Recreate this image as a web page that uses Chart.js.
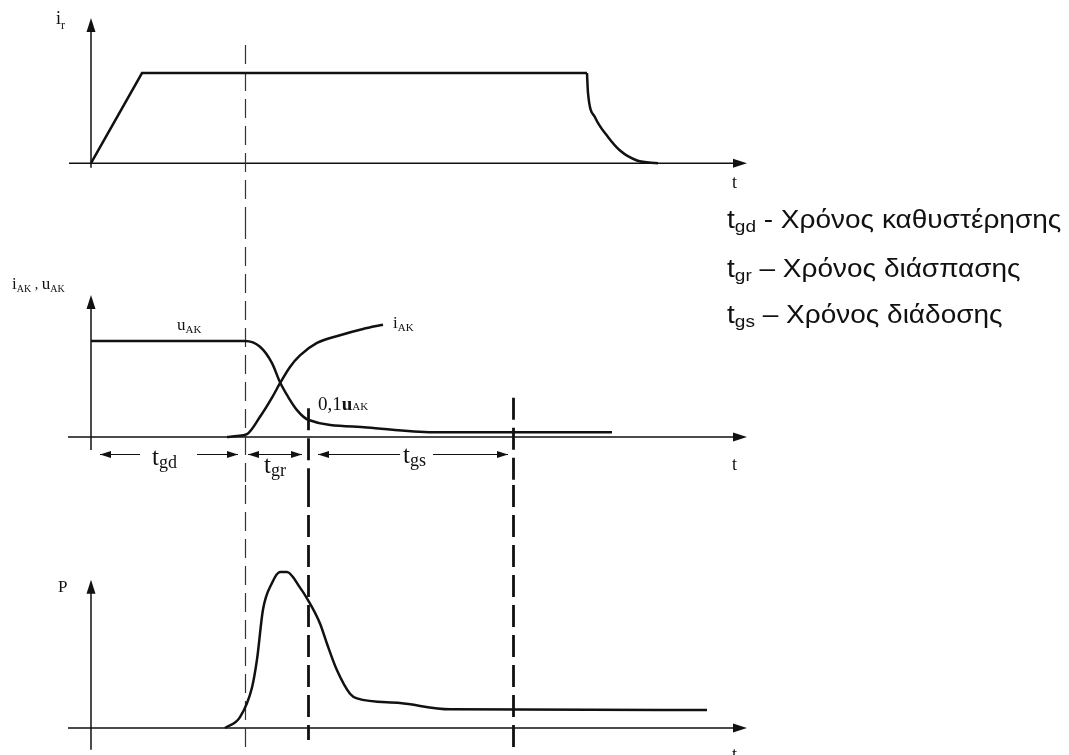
<!DOCTYPE html>
<html>
<head>
<meta charset="utf-8">
<title>Thyristor turn-on</title>
<script src="https://cdn.jsdelivr.net/npm/chart.js@4.4.1/dist/chart.umd.min.js"></script>
<style>
  body { margin: 0; background: #fff; width: 1069px; height: 755px; overflow: hidden; position: relative; }
  canvas { position: absolute; left: 0; }
  .legend {
    position: absolute; left: 727px; line-height: 30px;
    font-family: "Liberation Sans", Arial, sans-serif; font-size: 25px; color: #111; white-space: nowrap;
    transform: scaleX(1.12); transform-origin: 0 0;
  }
  .legend sub { font-size: 17px; vertical-align: -4px; line-height: 0; }
</style>
</head>
<body>
<canvas id="gateChart" width="1069" height="220" style="top:0"></canvas>
<canvas id="anodeChart" width="1069" height="265" style="top:220px"></canvas>
<canvas id="powerChart" width="1069" height="270" style="top:485px"></canvas>

<div class="legend" style="top:204px">t<sub>gd</sub> - Χρόνος καθυστέρησης</div>
<div class="legend" style="top:253px">t<sub>gr</sub> – Χρόνος διάσπασης</div>
<div class="legend" style="top:299px">t<sub>gs</sub> – Χρόνος διάδοσης</div>

<script>
// time runs in the same units on all three panels, t = 0 on the vertical axes
const gateRiseT = [0, 5.1, 49.6];
const gateRiseI = [0, 1, 1];
const gateFallT = [49.6, 49.7, 50.4, 51.7, 52.9, 54.6, 56.7];
const gateFallI = [1, 0.78, 0.51, 0.29, 0.14, 0.03, 0];

const uakT = [0, 15.4, 16.9, 18.1, 18.9, 19.7, 20.6, 21.7, 27.6, 34.2, 52.1];
const uakV = [1, 1, 0.94, 0.77, 0.57, 0.42, 0.28, 0.18, 0.10, 0.05, 0.05];

const iakT = [13.6, 14.6, 15.6, 16.9, 18.1, 18.9, 19.9, 20.9, 22.6, 24.9, 27.2, 29.2];
const iakV = [0, 0.01, 0.03, 0.21, 0.41, 0.56, 0.73, 0.85, 0.98, 1.06, 1.125, 1.17];

const powerT = [13.4, 14.9, 16.1, 16.6, 17.2, 18.1, 18.9, 19.6, 20.9, 21.7, 22.9, 23.6, 24.6, 25.9, 26.6, 30.9, 35.9, 61.6];
const powerP = [0, 0.07, 0.26, 0.44, 0.76, 0.93, 1.0, 1.0, 0.90, 0.82, 0.67, 0.54, 0.37, 0.22, 0.19, 0.16, 0.12, 0.115];

// end of delay, end of rise, end of spreading
const switchTimes = [15.4, 21.7, 42.2];
const intervalNames = ['gd', 'gr', 'gs'];

const SERIF = '"Liberation Serif", "Times New Roman", serif';
const INK = '#111';

function toPoints(ts, vs) {
    return ts.map((t, i) => ({ x: t, y: vs[i] }));
}

function curve(ts, vs, smooth) {
    return {
        data: toPoints(ts, vs),
        borderColor: INK,
        borderWidth: 2.5,
        pointRadius: 0,
        fill: false,
        tension: 0,
        cubicInterpolationMode: smooth ? 'monotone' : 'default'
    };
}

function arrowHead(ctx, x, y, dx, dy, len, half) {
    const bx = x - dx * len, by = y - dy * len;
    ctx.beginPath();
    ctx.moveTo(x, y);
    ctx.lineTo(bx - dy * half, by + dx * half);
    ctx.lineTo(bx + dy * half, by - dx * half);
    ctx.closePath();
    ctx.fill();
}

function richText(ctx, x, y, parts) {
    let cx = x;
    for (const p of parts) {
        ctx.font = (p.bold ? 'bold ' : '') + p.size + 'px ' + SERIF;
        ctx.fillText(p.text, cx, y + (p.drop || 0));
        cx += ctx.measureText(p.text).width;
    }
}

const sub = (main, s, size, subSize) => [
    { text: main, size: size },
    { text: s, size: subSize, drop: 3 }
];

function diagramPlugin(panel) {
    return {
        id: 'diagram',
        beforeDatasetsDraw(chart) {
            const { ctx, scales: { x, y } } = chart;
            const x0 = x.getPixelForValue(0);
            const y0 = y.getPixelForValue(0);
            const ax = panel.axis;
            ctx.save();
            ctx.strokeStyle = INK;
            ctx.fillStyle = INK;

            // axes with arrow heads
            ctx.lineWidth = 1.5;
            ctx.beginPath();
            ctx.moveTo(x.getPixelForValue(ax.tFrom), y0);
            ctx.lineTo(x.getPixelForValue(ax.tTo) - 10, y0);
            ctx.moveTo(x0, y.getPixelForValue(ax.vFrom));
            ctx.lineTo(x0, y.getPixelForValue(ax.vTo) + 10);
            ctx.stroke();
            arrowHead(ctx, x.getPixelForValue(ax.tTo), y0, 1, 0, 14, 4.5);
            arrowHead(ctx, x0, y.getPixelForValue(ax.vTo), 0, -1, 14, 4.5);

            // switching instants
            for (const m of panel.markers) {
                const px = Math.round(x.getPixelForValue(switchTimes[m.at])) + 0.5;
                const top = m.from === undefined ? 0 : y.getPixelForValue(m.from);
                const bottom = m.to === undefined ? chart.height : y.getPixelForValue(m.to);
                ctx.lineWidth = m.thick ? 2.8 : 1.2;
                ctx.strokeStyle = m.thick ? INK : '#333';
                ctx.setLineDash(m.thick ? [22, 8] : [19, 8]);
                ctx.beginPath();
                ctx.moveTo(px, top);
                ctx.lineTo(px, bottom);
                ctx.stroke();
            }
            ctx.restore();
        },
        afterDatasetsDraw(chart) {
            const { ctx, scales: { x, y } } = chart;
            ctx.save();
            ctx.fillStyle = INK;
            ctx.strokeStyle = INK;
            ctx.textBaseline = 'alphabetic';

            // interval arrows under the time axis
            ctx.lineWidth = 1;
            for (const s of panel.spans || []) {
                const py = Math.round(y.getPixelForValue(s.v)) + 0.5;
                const a = x.getPixelForValue(s.from), b = x.getPixelForValue(s.to);
                ctx.beginPath();
                if (s.gap) {
                    ctx.moveTo(a, py); ctx.lineTo(x.getPixelForValue(s.gap[0]), py);
                    ctx.moveTo(x.getPixelForValue(s.gap[1]), py); ctx.lineTo(b, py);
                } else {
                    ctx.moveTo(a, py); ctx.lineTo(b, py);
                }
                ctx.stroke();
                arrowHead(ctx, a, py, -1, 0, 11, 3.5);
                arrowHead(ctx, b, py, 1, 0, 11, 3.5);
                richText(ctx, x.getPixelForValue(s.labelT), y.getPixelForValue(s.labelV),
                    sub('t', intervalNames[s.name], 25, 18));
            }

            for (const l of panel.labels) {
                richText(ctx, x.getPixelForValue(l.t), y.getPixelForValue(l.v), l.parts);
            }
            ctx.restore();
        }
    };
}

function makeChart(id, datasets, yMin, yMax, panel) {
    return new Chart(document.getElementById(id), {
        type: 'line',
        data: { datasets: datasets },
        options: {
            responsive: false,
            animation: false,
            events: [],
            layout: { padding: 0, autoPadding: false },
            plugins: { legend: { display: false }, tooltip: { enabled: false } },
            scales: {
                x: { type: 'linear', display: false, min: -9.1, max: 97.8 },
                y: { type: 'linear', display: false, min: yMin, max: yMax }
            }
        },
        plugins: [diagramPlugin(panel)]
    });
}

// gate current
makeChart('gateChart', [
    curve(gateRiseT, gateRiseI, false),
    curve(gateFallT, gateFallI, true)
], -0.63, 1.81, {
    axis: { tFrom: -2.2, tTo: 65.6, vFrom: -0.05, vTo: 1.61 },
    markers: [{ at: 0, from: 1.31 }],
    labels: [
        { t: -3.5, v: 1.54, parts: [{ text: 'i', size: 18 }, { text: 'r', size: 12, drop: 5 }] },
        { t: 64.1, v: -0.27, parts: [{ text: 't', size: 18 }] }
    ]
});

// anode voltage and current
makeChart('anodeChart', [
    curve(uakT, uakV, true),
    curve(iakT, iakV, true)
], -0.5, 2.26, {
    axis: { tFrom: -2.3, tTo: 65.6, vFrom: -0.135, vTo: 1.48 },
    markers: [
        { at: 0 },
        { at: 1, thick: true, from: 0.30 },
        { at: 2, thick: true, from: 0.41 }
    ],
    spans: [
        { name: 0, from: 0.9, to: 14.7, v: -0.177, gap: [4.9, 10.6], labelT: 6.1, labelV: -0.29 },
        { name: 1, from: 15.7, to: 21.1, v: -0.177, labelT: 17.3, labelV: -0.38 },
        { name: 2, from: 22.7, to: 41.7, v: -0.177, gap: [30.9, 34.2], labelT: 31.2, labelV: -0.27 }
    ],
    labels: [
        { t: -7.9, v: 1.54, parts: [
            { text: 'i', size: 17 }, { text: 'AK', size: 10, drop: 3 }, { text: ' , ', size: 14 },
            { text: 'u', size: 17 }, { text: 'AK', size: 10, drop: 3 }
        ] },
        { t: 8.6, v: 1.11, parts: sub('u', 'AK', 17, 11) },
        { t: 30.2, v: 1.135, parts: sub('i', 'AK', 17, 11) },
        { t: 22.7, v: 0.28, parts: [
            { text: '0,1', size: 19 }, { text: 'u', size: 19, bold: true }, { text: 'AK', size: 11 }
        ] },
        { t: 64.1, v: -0.34, parts: [{ text: 't', size: 18 }] }
    ]
});

// dissipated power
makeChart('powerChart', [
    curve(powerT, powerP, true)
], -0.173, 1.558, {
    axis: { tFrom: -2.3, tTo: 65.6, vFrom: -0.14, vTo: 0.95 },
    markers: [
        { at: 0 },
        { at: 1, thick: true, to: -0.077 },
        { at: 2, thick: true, to: -0.13 }
    ],
    labels: [
        { t: -3.3, v: 0.87, parts: [{ text: 'P', size: 17 }] },
        { t: 64.1, v: -0.205, parts: [{ text: 't', size: 18 }] }
    ]
});
</script>
</body>
</html>
